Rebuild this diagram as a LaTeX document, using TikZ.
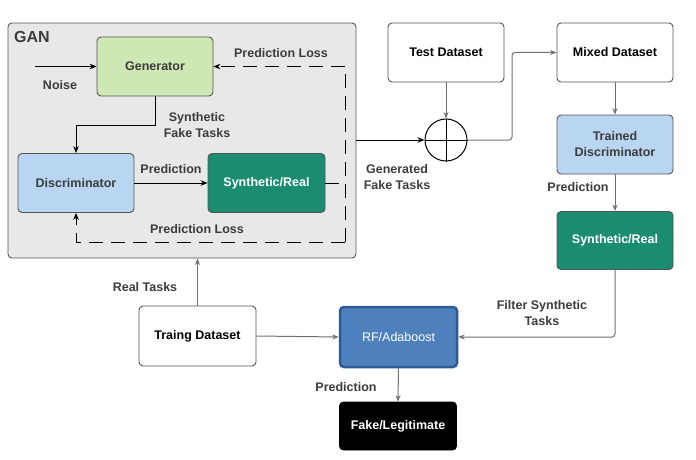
\documentclass[tikz,border=0pt]{standalone}
\usepackage{fontspec}
\setmainfont{Liberation Sans}
\usepackage{tikz}
\usetikzlibrary{arrows.meta,positioning,calc}

\definecolor{ganbg}{HTML}{E8E8E8}
\definecolor{genfill}{HTML}{CFE7B2}
\definecolor{discfill}{HTML}{B8D6F1}
\definecolor{tealfill}{HTML}{1A8C6F}
\definecolor{rffill}{HTML}{4F80BE}
\definecolor{rfline}{HTML}{2C5A92}
\definecolor{boxline}{HTML}{555555}
\definecolor{labeltext}{HTML}{3C3C3C}
\definecolor{conngray}{HTML}{707070}

\begin{document}
\begin{tikzpicture}[
  x=1pt,y=-1pt,
  >={Stealth[length=7pt,width=5.5pt]},
  font=\fontsize{12.5}{16}\selectfont\bfseries,
  procnode/.style={draw=boxline,line width=0.9pt,rounded corners=4pt,align=center,
    minimum width=116pt,minimum height=59pt,inner sep=2pt},
  lightnode/.style={procnode,fill=#1,text=labeltext},
  darknode/.style={procnode,fill=#1,text=white},
  lbl/.style={text=labeltext,align=center,inner sep=0pt},
  lossline/.style={line width=1pt,dash pattern=on 14pt off 8pt},
  grayline/.style={draw=conngray,line width=1pt,>={Stealth[length=6.5pt,width=5pt]}}
]
\useasboundingbox (0,0) rectangle (696,460);

% GAN block
\node[draw=boxline,fill=ganbg,line width=0.9pt,rounded corners=4pt,
  minimum width=348pt,minimum height=235pt] (gan) at (182,140.5) {};
\node[lbl,anchor=west,font=\fontsize{16}{18}\selectfont\bfseries] (ganlbl) at (14,37) {GAN};

\node[lightnode=genfill] (gen) at (155,66.5) {Generator};
\node[lightnode=discfill] (disc) at (76,183) {Discriminator};
\node[darknode=tealfill,minimum width=117pt] (synreal) at (266.5,183) {Synthetic/Real};

\node[lbl] (noiselbl) at (60,85) {Noise};
\node[lbl] (sftlbl) at (197,125) {Synthetic\\Fake Tasks};
\node[lbl] (predlbl) at (171,169) {Prediction};
\node[lbl] (losstop) at (281,53) {Prediction Loss};
\node[lbl] (lossbot) at (197,229) {Prediction Loss};

\coordinate (noisein) at (35,66.5);
\draw[->,line width=1pt] (noisein) -- (gen.west);

\coordinate (bendG) at (gen.south |- 0,125);
\draw[->,line width=1pt] (gen.south) -- (bendG) -| (disc.north);
\draw[->,line width=1pt] (disc) -- (synreal);

\coordinate (lossTR) at (345,66.5);
\coordinate (lossBR) at (345,242);
\coordinate (lossBL) at (disc.south |- lossBR);
\draw[lossline] (synreal.east) -- (synreal.east -| lossTR);
\draw[->,lossline] (lossBR) -- (lossTR) -- (gen.east);
\draw[->,lossline] (lossBR) -- (lossBL) -- (disc.south);

% right side
\node[procnode,fill=white] (test) at (446,52.5) {Test Dataset};
\node[procnode,fill=white] (mix) at (615,52.5) {Mixed Dataset};
\node[lightnode=discfill] (trained) at (615,144.5) {Trained\\Discriminator};
\node[darknode=tealfill,minimum height=58pt] (syn2) at (615,240.5) {Synthetic/Real};

\node[circle,draw,line width=1pt,minimum size=42pt,inner sep=0pt] (plus) at (446,140) {};
\draw[line width=1pt] (plus.north) -- (plus.south);
\draw[line width=1pt] (plus.west) -- (plus.east);

\node[lbl] (genlbl) at (397,177) {Generated\\Fake Tasks};
\node[lbl] (pred2lbl) at (578,187) {Prediction};

\draw[->,line width=1pt] (gan.east |- plus.west) -- (plus.west);
\draw[->,grayline] (test.south) -- (plus.north);
\coordinate (plusR) at (512,140);
\draw[->,grayline,rounded corners=3pt] (plus.east) -- (plusR) |- (mix.west);
\draw[->,grayline] (mix) -- (trained);
\draw[->,grayline] (trained) -- (syn2);

% bottom
\node[procnode,fill=white,minimum width=117pt,minimum height=60pt] (train) at (197.5,336) {Traing Dataset};
\node[procnode,fill=rffill,draw=rfline,line width=2.5pt,text=white,font=\fontsize{12.5}{16}\selectfont,
  minimum width=117pt,minimum height=60pt] (rf) at (398.5,337) {RF/Adaboost};
\node[procnode,fill=black,draw=black,text=white,minimum width=117pt,minimum height=48pt] (fake) at (398,426) {Fake/Legitimate};

\node[lbl] (reallbl) at (145,287) {Real Tasks};
\node[lbl] (filterlbl) at (542,313.5) {Filter Synthetic\\Tasks};
\node[lbl] (pred3lbl) at (346,387) {Prediction};

\draw[->,grayline] (train.north) -- (train.north |- gan.south);
\draw[->,grayline] (train.east) -- (rf.west);
\draw[->,grayline,rounded corners=3pt] (syn2.south) |- (rf.east);
\draw[->,grayline] (rf.south) -- (fake.north);

\end{tikzpicture}
\end{document}
